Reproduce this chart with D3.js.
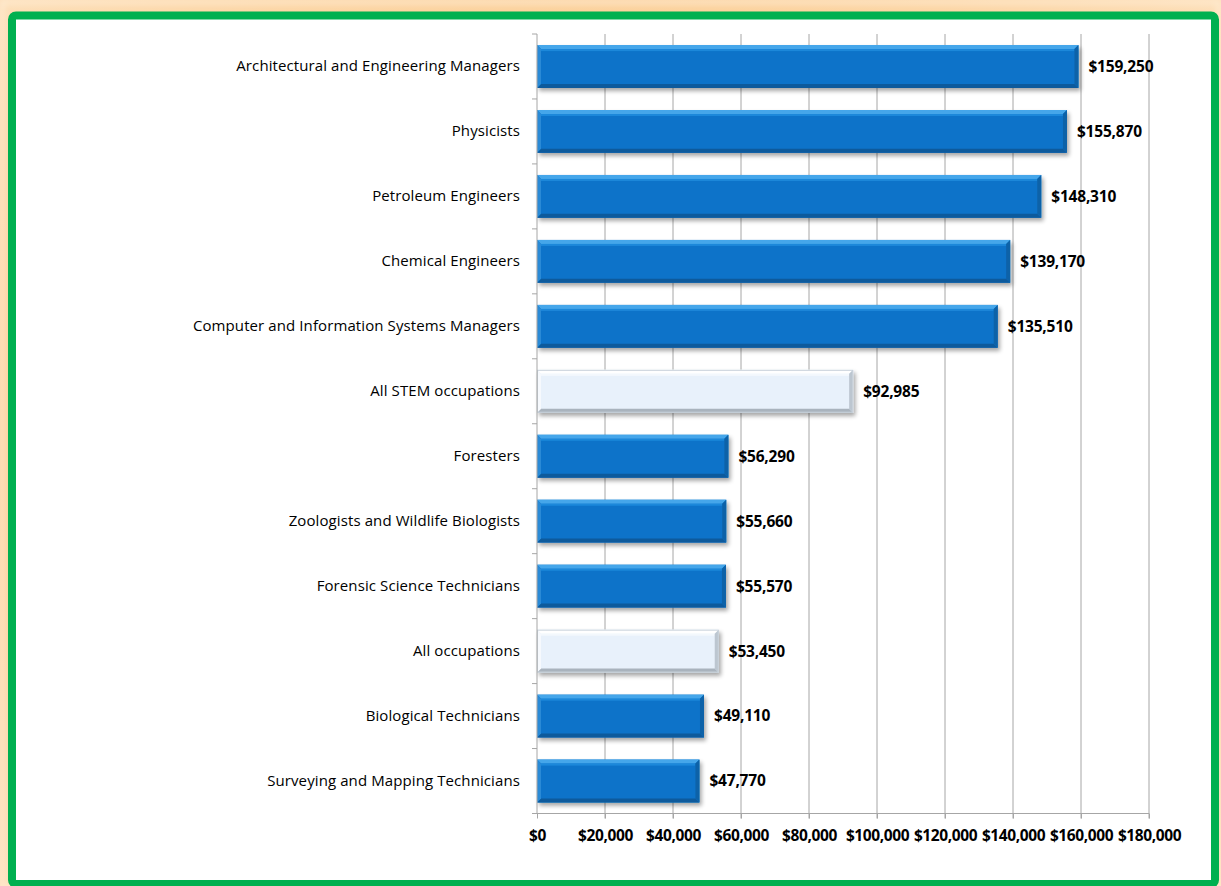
<!DOCTYPE html>
<html>
<head>
<meta charset="utf-8">
<script src="https://cdn.jsdelivr.net/npm/d3@7"></script>
<style>
  html, body { margin: 0; padding: 0; background: #fff; }
  svg { display: block; }
</style>
</head>
<body>
<script>
// Median annual wages by occupation
const categories = [
  "Architectural and Engineering Managers",
  "Physicists",
  "Petroleum Engineers",
  "Chemical Engineers",
  "Computer and Information Systems Managers",
  "All STEM occupations",
  "Foresters",
  "Zoologists and Wildlife Biologists",
  "Forensic Science Technicians",
  "All occupations",
  "Biological Technicians",
  "Surveying and Mapping Technicians"
];
const wages = [159250, 155870, 148310, 139170, 135510, 92985, 56290, 55660, 55570, 53450, 49110, 47770];
const benchmarks = ["All STEM occupations", "All occupations"];
const xTicks = [0, 20000, 40000, 60000, 80000, 100000, 120000, 140000, 160000, 180000];

const W = 1221, H = 886;
const svg = d3.select("body").append("svg").attr("width", W).attr("height", H);
const defs = svg.append("defs");

// Outer glow
const glow = defs.append("radialGradient").attr("id", "glow")
  .attr("cx", "50%").attr("cy", "50%").attr("r", "75%");
glow.append("stop").attr("offset", "0.6").attr("stop-color", "#fbcf98");
glow.append("stop").attr("offset", "1").attr("stop-color", "#fde2bf");
svg.append("rect").attr("width", W).attr("height", H).attr("fill", "url(#glow)");

const edgeBlur = defs.append("filter").attr("id", "edgeBlur");
edgeBlur.append("feGaussianBlur").attr("stdDeviation", 3);
svg.append("rect").attr("x", 2).attr("y", 2).attr("width", W - 4).attr("height", H)
  .attr("fill", "none").attr("stroke", "#fff0dc").attr("stroke-width", 3)
  .attr("filter", "url(#edgeBlur)");

// Green frame
svg.append("rect").attr("x", 12).attr("y", 15.5).attr("width", 1203).attr("height", 868.5)
  .attr("rx", 4).attr("fill", "#fff").attr("stroke", "#00b050").attr("stroke-width", 8);

const margin = { left: 537, right: 1149, top: 34, bottom: 813.5 };

const x = d3.scaleLinear().domain([0, 180000]).range([margin.left, margin.right]);
const y = d3.scaleBand().domain(categories).range([margin.top, margin.bottom])
  .paddingInner(0.34).paddingOuter(0.17);

const fontFamily = "'Open Sans', 'Noto Sans', sans-serif";

// Vertical gridlines
svg.append("g").selectAll("line").data(xTicks.slice(1)).join("line")
  .attr("x1", d => x(d)).attr("x2", d => x(d))
  .attr("y1", margin.top).attr("y2", margin.bottom + 5)
  .attr("stroke", "#a6a6a6").attr("stroke-width", 1);

// Drop shadow for bars
const shadow = defs.append("filter").attr("id", "shadow")
  .attr("x", "-5%").attr("y", "-20%").attr("width", "115%").attr("height", "160%");
shadow.append("feGaussianBlur").attr("in", "SourceAlpha").attr("stdDeviation", 2.2);
shadow.append("feOffset").attr("dx", 1.5).attr("dy", 3).attr("result", "off");
shadow.append("feComponentTransfer").append("feFuncA").attr("type", "linear").attr("slope", 0.35);
const merge = shadow.append("feMerge");
merge.append("feMergeNode");
merge.append("feMergeNode").attr("in", "SourceGraphic");

const palette = {
  main:   { face: "#0873c9", top: "#45a6ea", top2: "#1f88da", bottom: "#0a5a9c", right: "#0a62a8", left: "#2a8ad6" },
  bench:  { face: "#e8f1fb", top: "#ffffff", top2: "#f3f8fd", bottom: "#a9b3bd", right: "#bcc6d0", left: "#f6f9fd" }
};

const bev = 4;
const bars = svg.append("g").selectAll("g").data(categories).join("g")
  .attr("filter", "url(#shadow)");

bars.each(function (c, i) {
  const g = d3.select(this);
  const p = benchmarks.includes(c) ? palette.bench : palette.main;
  const x0 = x(0), x1 = x(wages[i]);
  const y0 = y(c), y1 = y(c) + y.bandwidth();
  g.append("rect").attr("x", x0).attr("y", y0).attr("width", x1 - x0).attr("height", y1 - y0)
    .attr("fill", p.face);
  // top bevel
  g.append("path").attr("d", `M${x0},${y0}L${x1},${y0}L${x1 - bev},${y0 + bev}L${x0 + bev},${y0 + bev}Z`)
    .attr("fill", p.top);
  g.append("rect").attr("x", x0 + bev).attr("y", y0 + bev).attr("width", Math.max(0, x1 - x0 - 2 * bev)).attr("height", 2)
    .attr("fill", p.top2);
  // bottom bevel
  g.append("path").attr("d", `M${x0},${y1}L${x1},${y1}L${x1 - bev},${y1 - bev}L${x0 + bev},${y1 - bev}Z`)
    .attr("fill", p.bottom);
  // right bevel
  g.append("path").attr("d", `M${x1},${y0}L${x1},${y1}L${x1 - bev},${y1 - bev}L${x1 - bev},${y0 + bev}Z`)
    .attr("fill", p.right);
  // left bevel
  g.append("path").attr("d", `M${x0},${y0}L${x0},${y1}L${x0 + bev},${y1 - bev}L${x0 + bev},${y0 + bev}Z`)
    .attr("fill", p.left);
  if (benchmarks.includes(c)) {
    g.append("rect").attr("x", x0 + 0.5).attr("y", y0 + 0.5).attr("width", x1 - x0 - 1).attr("height", y1 - y0 - 1)
      .attr("fill", "none").attr("stroke", "#c9d2db").attr("stroke-width", 1);
  }
});

// Category axis (left)
const yAxis = d3.axisLeft(y).tickSize(0).tickPadding(17);
const yG = svg.append("g").attr("transform", `translate(${margin.left},0)`).call(yAxis);
yG.select(".domain").attr("stroke", "#a6a6a6").attr("d", `M0,${margin.top}V${margin.bottom}`);
yG.selectAll("text").attr("font-family", fontFamily).attr("font-size", 15).attr("fill", "#000")
  .attr("letter-spacing", 0.1);
// boundary ticks between categories
const bounds = d3.range(categories.length + 1).map(i => margin.top + i * y.step());
svg.append("g").selectAll("line").data(bounds).join("line")
  .attr("x1", margin.left - 5).attr("x2", margin.left)
  .attr("y1", d => d).attr("y2", d => d)
  .attr("stroke", "#a6a6a6");

// Value axis (bottom)
const xAxis = d3.axisBottom(x).tickValues(xTicks).tickSize(5).tickPadding(11)
  .tickFormat(d => "$" + d3.format(",")(d));
const xG = svg.append("g").attr("transform", `translate(0,${margin.bottom})`).call(xAxis);
xG.select(".domain").attr("stroke", "#a6a6a6").attr("d", `M${margin.left - 5},0H${margin.right}`);
xG.selectAll(".tick line").attr("stroke", "#a6a6a6");
xG.selectAll("text").attr("font-family", fontFamily).attr("font-size", 15.5).attr("font-weight", "bold")
  .attr("fill", "#000").attr("letter-spacing", -0.4);

// Value labels
svg.append("g").selectAll("text").data(categories).join("text")
  .attr("x", (c, i) => x(wages[i]) + 10)
  .attr("y", c => y(c) + y.bandwidth() / 2)
  .attr("dy", "0.35em")
  .attr("font-family", fontFamily).attr("font-size", 15.5).attr("font-weight", "bold")
  .attr("letter-spacing", -0.2)
  .attr("fill", "#000")
  .text((c, i) => "$" + d3.format(",")(wages[i]));
</script>
</body>
</html>
